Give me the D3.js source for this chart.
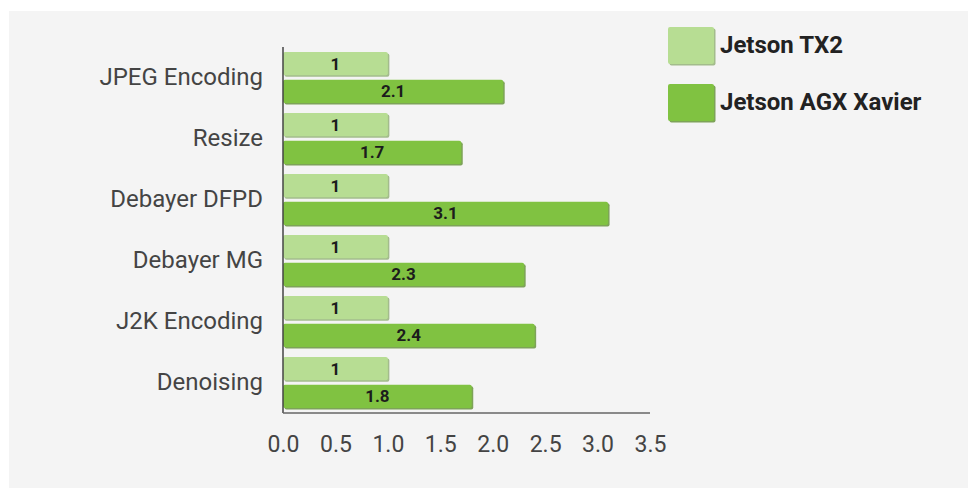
<!DOCTYPE html>
<html>
<head>
<meta charset="utf-8">
<script src="https://cdn.jsdelivr.net/npm/d3@7/dist/d3.min.js"></script>
<style>
  body { margin: 0; background: #fff; }
  svg { display: block; font-family: Roboto, "Noto Sans", sans-serif; }
</style>
</head>
<body>
<svg width="968" height="488"></svg>
<script>
const categories = ['JPEG Encoding', 'Resize', 'Debayer DFPD', 'Debayer MG', 'J2K Encoding', 'Denoising'];
const seriesNames = ['Jetson TX2', 'Jetson AGX Xavier'];
const tx2 = [1, 1, 1, 1, 1, 1];
const xavier = [2.1, 1.7, 3.1, 2.3, 2.4, 1.8];
const xTicks = [0, 0.5, 1, 1.5, 2, 2.5, 3, 3.5];

const colors = ['#b7dd93', '#80c241'];
const edge = ['#8fae72', '#5f8f31'];

const svg = d3.select('svg');

// light gray panel
svg.append('rect')
    .attr('x', 9).attr('y', 11)
    .attr('width', 959).attr('height', 477)
    .attr('fill', '#f4f4f4');

const x = d3.scaleLinear().domain([0, 3.5]).range([283, 650]);
const y = d3.scaleBand().domain(categories).range([47, 413]);
const ySub = d3.scaleBand().domain(seriesNames).range([5, y.bandwidth() - 5]).paddingInner(0.16);

const rows = categories.map((c, i) => ({ cat: c, vals: [tx2[i], xavier[i]] }));

const groups = svg.append('g').selectAll('g')
    .data(rows)
    .join('g')
        .attr('transform', d => `translate(0,${y(d.cat)})`);

const bars = groups.selectAll('g.bar')
    .data(d => d.vals.map((v, j) => ({ v, j })))
    .join('g')
        .attr('class', 'bar');

// shadow edge
bars.append('rect')
    .attr('x', x(0) + 1.5)
    .attr('y', d => ySub(seriesNames[d.j]) + 1.5)
    .attr('width', d => x(d.v) - x(0))
    .attr('height', ySub.bandwidth())
    .attr('rx', 2)
    .attr('fill', d => edge[d.j])
    .attr('opacity', 0.8);

bars.append('rect')
    .attr('x', x(0))
    .attr('y', d => ySub(seriesNames[d.j]))
    .attr('width', d => x(d.v) - x(0))
    .attr('height', ySub.bandwidth())
    .attr('rx', 2)
    .attr('fill', d => colors[d.j]);

bars.append('text')
    .attr('x', d => (x(0) + x(d.v)) / 2)
    .attr('y', d => ySub(seriesNames[d.j]) + ySub.bandwidth() / 2)
    .attr('dy', '0.36em')
    .attr('text-anchor', 'middle')
    .attr('font-size', 17)
    .attr('font-weight', 'bold')
    .attr('fill', '#1c1c1c')
    .text(d => d.v);

// axes
svg.append('line')
    .attr('x1', x(0)).attr('x2', x(0))
    .attr('y1', 47).attr('y2', 413)
    .attr('stroke', '#444').attr('stroke-width', 1.5);

svg.append('line')
    .attr('x1', x(0)).attr('x2', x(3.5))
    .attr('y1', 413).attr('y2', 413)
    .attr('stroke', '#666').attr('stroke-width', 1.5);

const xAxis = svg.append('g')
    .attr('transform', 'translate(0,413)')
    .call(d3.axisBottom(x).tickValues(xTicks).tickFormat(d3.format('.1f')).tickSize(0).tickPadding(23));
xAxis.select('.domain').remove();
xAxis.selectAll('text')
    .attr('font-family', 'Roboto, "Noto Sans", sans-serif')
    .attr('font-size', 23)
    .attr('fill', '#444');

const yAxis = svg.append('g')
    .attr('transform', `translate(${x(0)},0)`)
    .call(d3.axisLeft(y).tickSize(0).tickPadding(20));
yAxis.select('.domain').remove();
yAxis.selectAll('text')
    .attr('font-family', 'Roboto, "Noto Sans", sans-serif')
    .attr('font-size', 24)
    .attr('fill', '#444')
    .attr('dy', '0.3em');

// legend
const legend = svg.append('g').selectAll('g')
    .data(seriesNames)
    .join('g')
        .attr('transform', (d, i) => `translate(668,${27 + i * 57})`);

legend.append('rect')
    .attr('x', 1.5).attr('y', 1.5)
    .attr('width', 46).attr('height', 37)
    .attr('rx', 2)
    .attr('fill', (d, i) => edge[i]).attr('opacity', 0.8);

legend.append('rect')
    .attr('width', 46).attr('height', 37)
    .attr('rx', 2)
    .attr('fill', (d, i) => colors[i]);

legend.append('text')
    .attr('x', 52)
    .attr('y', 18)
    .attr('dy', '0.35em')
    .attr('font-size', 24)
    .attr('font-weight', 'bold')
    .attr('fill', '#222')
    .text(d => d);
</script>
</body>
</html>
